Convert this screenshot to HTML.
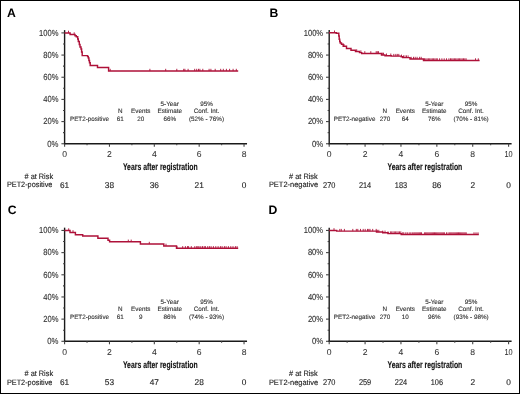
<!DOCTYPE html>
<html><head><meta charset="utf-8"><style>
html,body{margin:0;padding:0;background:#fff;}
body{width:520px;height:394px;overflow:hidden;}
svg{display:block;will-change:transform;transform:translateZ(0);text-rendering:geometricPrecision;font-family:"Liberation Sans", sans-serif;}
</style></head><body>
<svg width="520" height="394" viewBox="0 0 520 394">
<rect x="0" y="0" width="520" height="394" fill="#fff"/>
<rect x="0.5" y="0.5" width="519" height="393" fill="none" stroke="#000" stroke-width="1"/>
<text x="7.00" y="16.80" font-size="12.20" text-anchor="start" font-weight="bold" fill="#000">A</text>
<line x1="64.60" y1="30.10" x2="64.60" y2="144.35" stroke="#1a1a1a" stroke-width="1.4"/>
<line x1="61.40" y1="143.75" x2="64.60" y2="143.75" stroke="#444" stroke-width="1.1"/>
<text x="58.50" y="146.50" font-size="8.80" text-anchor="end" font-weight="normal" fill="#333" textLength="11.20" lengthAdjust="spacingAndGlyphs" stroke="#333" stroke-width="0.12">0%</text>
<line x1="63.00" y1="132.66" x2="64.60" y2="132.66" stroke="#444" stroke-width="1.1"/>
<line x1="61.40" y1="121.58" x2="64.60" y2="121.58" stroke="#444" stroke-width="1.1"/>
<text x="58.50" y="124.33" font-size="8.80" text-anchor="end" font-weight="normal" fill="#333" textLength="15.20" lengthAdjust="spacingAndGlyphs" stroke="#333" stroke-width="0.12">20%</text>
<line x1="63.00" y1="110.50" x2="64.60" y2="110.50" stroke="#444" stroke-width="1.1"/>
<line x1="61.40" y1="99.41" x2="64.60" y2="99.41" stroke="#444" stroke-width="1.1"/>
<text x="58.50" y="102.16" font-size="8.80" text-anchor="end" font-weight="normal" fill="#333" textLength="15.20" lengthAdjust="spacingAndGlyphs" stroke="#333" stroke-width="0.12">40%</text>
<line x1="63.00" y1="88.32" x2="64.60" y2="88.32" stroke="#444" stroke-width="1.1"/>
<line x1="61.40" y1="77.24" x2="64.60" y2="77.24" stroke="#444" stroke-width="1.1"/>
<text x="58.50" y="79.99" font-size="8.80" text-anchor="end" font-weight="normal" fill="#333" textLength="15.20" lengthAdjust="spacingAndGlyphs" stroke="#333" stroke-width="0.12">60%</text>
<line x1="63.00" y1="66.16" x2="64.60" y2="66.16" stroke="#444" stroke-width="1.1"/>
<line x1="61.40" y1="55.07" x2="64.60" y2="55.07" stroke="#444" stroke-width="1.1"/>
<text x="58.50" y="57.82" font-size="8.80" text-anchor="end" font-weight="normal" fill="#333" textLength="15.20" lengthAdjust="spacingAndGlyphs" stroke="#333" stroke-width="0.12">80%</text>
<line x1="63.00" y1="43.98" x2="64.60" y2="43.98" stroke="#444" stroke-width="1.1"/>
<line x1="61.40" y1="32.90" x2="64.60" y2="32.90" stroke="#444" stroke-width="1.1"/>
<text x="58.50" y="35.65" font-size="8.80" text-anchor="end" font-weight="normal" fill="#333" textLength="19.40" lengthAdjust="spacingAndGlyphs" stroke="#333" stroke-width="0.12">100%</text>
<line x1="64.00" y1="143.75" x2="247.04" y2="143.75" stroke="#1a1a1a" stroke-width="1.4"/>
<line x1="64.60" y1="143.75" x2="64.60" y2="146.75" stroke="#444" stroke-width="1.1"/>
<text x="64.60" y="157.00" font-size="8.60" text-anchor="middle" font-weight="normal" fill="#333" stroke="#333" stroke-width="0.05">0</text>
<line x1="87.03" y1="143.75" x2="87.03" y2="145.25" stroke="#444" stroke-width="1.1"/>
<line x1="109.46" y1="143.75" x2="109.46" y2="146.75" stroke="#444" stroke-width="1.1"/>
<text x="109.46" y="157.00" font-size="8.60" text-anchor="middle" font-weight="normal" fill="#333" stroke="#333" stroke-width="0.05">2</text>
<line x1="131.89" y1="143.75" x2="131.89" y2="145.25" stroke="#444" stroke-width="1.1"/>
<line x1="154.32" y1="143.75" x2="154.32" y2="146.75" stroke="#444" stroke-width="1.1"/>
<text x="154.32" y="157.00" font-size="8.60" text-anchor="middle" font-weight="normal" fill="#333" stroke="#333" stroke-width="0.05">4</text>
<line x1="176.75" y1="143.75" x2="176.75" y2="145.25" stroke="#444" stroke-width="1.1"/>
<line x1="199.18" y1="143.75" x2="199.18" y2="146.75" stroke="#444" stroke-width="1.1"/>
<text x="199.18" y="157.00" font-size="8.60" text-anchor="middle" font-weight="normal" fill="#333" stroke="#333" stroke-width="0.05">6</text>
<line x1="221.61" y1="143.75" x2="221.61" y2="145.25" stroke="#444" stroke-width="1.1"/>
<line x1="244.04" y1="143.75" x2="244.04" y2="146.75" stroke="#444" stroke-width="1.1"/>
<text x="244.04" y="157.00" font-size="8.60" text-anchor="middle" font-weight="normal" fill="#333" stroke="#333" stroke-width="0.05">8</text>
<text x="160.32" y="170.20" font-size="9.80" text-anchor="middle" font-weight="bold" fill="#111" textLength="74.80" lengthAdjust="spacingAndGlyphs" stroke="#111" stroke-width="0.12">Years after registration</text>
<text x="70.00" y="121.20" font-size="6.30" text-anchor="start" font-weight="normal" fill="#333" textLength="39.00" lengthAdjust="spacingAndGlyphs" stroke="#333" stroke-width="0.12">PET2-positive</text>
<text x="120.30" y="113.40" font-size="6.30" text-anchor="middle" font-weight="normal" fill="#333" stroke="#333" stroke-width="0.12">N</text>
<text x="120.30" y="121.20" font-size="6.30" text-anchor="middle" font-weight="normal" fill="#333" stroke="#333" stroke-width="0.12">61</text>
<text x="140.70" y="113.40" font-size="6.30" text-anchor="middle" font-weight="normal" fill="#333" stroke="#333" stroke-width="0.12">Events</text>
<text x="140.70" y="121.20" font-size="6.30" text-anchor="middle" font-weight="normal" fill="#333" stroke="#333" stroke-width="0.12">20</text>
<text x="169.70" y="106.00" font-size="6.30" text-anchor="middle" font-weight="normal" fill="#333" stroke="#333" stroke-width="0.12">5-Year</text>
<text x="169.70" y="113.40" font-size="6.30" text-anchor="middle" font-weight="normal" fill="#333" stroke="#333" stroke-width="0.12">Estimate</text>
<text x="169.70" y="121.20" font-size="6.30" text-anchor="middle" font-weight="normal" fill="#333" stroke="#333" stroke-width="0.12">66%</text>
<text x="206.50" y="106.00" font-size="6.30" text-anchor="middle" font-weight="normal" fill="#333" stroke="#333" stroke-width="0.12">95%</text>
<text x="206.50" y="113.40" font-size="6.30" text-anchor="middle" font-weight="normal" fill="#333" stroke="#333" stroke-width="0.12">Conf. Int.</text>
<text x="206.50" y="121.20" font-size="6.30" text-anchor="middle" font-weight="normal" fill="#333" stroke="#333" stroke-width="0.12">(52% - 76%)</text>
<text x="53.10" y="178.80" font-size="7.80" text-anchor="end" font-weight="normal" fill="#222" textLength="28.60" lengthAdjust="spacingAndGlyphs" stroke="#222" stroke-width="0.12"># at Risk</text>
<text x="52.40" y="187.40" font-size="7.70" text-anchor="end" font-weight="normal" fill="#222" textLength="45.50" lengthAdjust="spacingAndGlyphs" stroke="#222" stroke-width="0.12">PET2-positive</text>
<text x="64.60" y="187.80" font-size="8.30" text-anchor="middle" font-weight="normal" fill="#222" stroke="#222" stroke-width="0.12">61</text>
<text x="109.46" y="187.80" font-size="8.30" text-anchor="middle" font-weight="normal" fill="#222" stroke="#222" stroke-width="0.12">38</text>
<text x="154.32" y="187.80" font-size="8.30" text-anchor="middle" font-weight="normal" fill="#222" stroke="#222" stroke-width="0.12">36</text>
<text x="199.18" y="187.80" font-size="8.30" text-anchor="middle" font-weight="normal" fill="#222" stroke="#222" stroke-width="0.12">21</text>
<text x="244.04" y="187.80" font-size="8.30" text-anchor="middle" font-weight="normal" fill="#222" stroke="#222" stroke-width="0.12">0</text>
<path d="M64.60 32.90 L70.10 32.90 L70.10 34.50 L75.00 34.50 L75.00 35.80 L76.30 35.80 L76.30 36.80 L77.70 36.80 L77.70 39.00 L78.30 39.00 L78.30 41.50 L79.30 41.50 L79.30 44.50 L80.00 44.50 L80.00 47.00 L81.00 47.00 L81.00 49.00 L81.60 49.00 L81.60 52.00 L82.20 52.00 L82.20 55.60 L87.60 55.60 L87.60 56.60 L88.30 56.60 L88.30 58.00 L88.90 58.00 L88.90 60.50 L89.50 60.50 L89.50 62.80 L90.20 62.80 L90.20 65.50 L97.50 65.50 L97.50 67.40 L108.60 67.40 L108.60 71.00 L238.20 71.00" fill="none" stroke="#ae1139" stroke-width="1.45" stroke-linejoin="miter"/>
<path d="M68.50 32.90 V30.70 M74.20 34.50 V32.30 M110.20 71.00 V68.80 M149.90 71.00 V68.80 M165.70 71.00 V68.80 M176.80 71.00 V68.80 M183.70 71.00 V68.80 M184.90 71.00 V68.80 M188.10 71.00 V68.80 M194.70 71.00 V68.80 M196.70 71.00 V68.80 M198.50 71.00 V68.80 M199.90 71.00 V68.80 M202.80 71.00 V68.80 M209.10 71.00 V68.80 M210.90 71.00 V68.80 M215.20 71.00 V68.80 M220.70 71.00 V68.80 M223.30 71.00 V68.80 M226.40 71.00 V68.80 M229.60 71.00 V68.80 M233.10 71.00 V68.80 M236.30 71.00 V68.80 " fill="none" stroke="#ae1139" stroke-width="0.9"/>
<text x="269.60" y="16.80" font-size="12.20" text-anchor="start" font-weight="bold" fill="#000">B</text>
<line x1="329.20" y1="30.10" x2="329.20" y2="144.35" stroke="#1a1a1a" stroke-width="1.4"/>
<line x1="326.00" y1="143.75" x2="329.20" y2="143.75" stroke="#444" stroke-width="1.1"/>
<text x="323.10" y="146.50" font-size="8.80" text-anchor="end" font-weight="normal" fill="#333" textLength="11.20" lengthAdjust="spacingAndGlyphs" stroke="#333" stroke-width="0.12">0%</text>
<line x1="327.60" y1="132.66" x2="329.20" y2="132.66" stroke="#444" stroke-width="1.1"/>
<line x1="326.00" y1="121.58" x2="329.20" y2="121.58" stroke="#444" stroke-width="1.1"/>
<text x="323.10" y="124.33" font-size="8.80" text-anchor="end" font-weight="normal" fill="#333" textLength="15.20" lengthAdjust="spacingAndGlyphs" stroke="#333" stroke-width="0.12">20%</text>
<line x1="327.60" y1="110.50" x2="329.20" y2="110.50" stroke="#444" stroke-width="1.1"/>
<line x1="326.00" y1="99.41" x2="329.20" y2="99.41" stroke="#444" stroke-width="1.1"/>
<text x="323.10" y="102.16" font-size="8.80" text-anchor="end" font-weight="normal" fill="#333" textLength="15.20" lengthAdjust="spacingAndGlyphs" stroke="#333" stroke-width="0.12">40%</text>
<line x1="327.60" y1="88.32" x2="329.20" y2="88.32" stroke="#444" stroke-width="1.1"/>
<line x1="326.00" y1="77.24" x2="329.20" y2="77.24" stroke="#444" stroke-width="1.1"/>
<text x="323.10" y="79.99" font-size="8.80" text-anchor="end" font-weight="normal" fill="#333" textLength="15.20" lengthAdjust="spacingAndGlyphs" stroke="#333" stroke-width="0.12">60%</text>
<line x1="327.60" y1="66.16" x2="329.20" y2="66.16" stroke="#444" stroke-width="1.1"/>
<line x1="326.00" y1="55.07" x2="329.20" y2="55.07" stroke="#444" stroke-width="1.1"/>
<text x="323.10" y="57.82" font-size="8.80" text-anchor="end" font-weight="normal" fill="#333" textLength="15.20" lengthAdjust="spacingAndGlyphs" stroke="#333" stroke-width="0.12">80%</text>
<line x1="327.60" y1="43.98" x2="329.20" y2="43.98" stroke="#444" stroke-width="1.1"/>
<line x1="326.00" y1="32.90" x2="329.20" y2="32.90" stroke="#444" stroke-width="1.1"/>
<text x="323.10" y="35.65" font-size="8.80" text-anchor="end" font-weight="normal" fill="#333" textLength="19.40" lengthAdjust="spacingAndGlyphs" stroke="#333" stroke-width="0.12">100%</text>
<line x1="328.60" y1="143.75" x2="511.60" y2="143.75" stroke="#1a1a1a" stroke-width="1.4"/>
<line x1="329.20" y1="143.75" x2="329.20" y2="146.75" stroke="#444" stroke-width="1.1"/>
<text x="329.20" y="157.00" font-size="8.60" text-anchor="middle" font-weight="normal" fill="#333" stroke="#333" stroke-width="0.05">0</text>
<line x1="347.14" y1="143.75" x2="347.14" y2="145.25" stroke="#444" stroke-width="1.1"/>
<line x1="365.08" y1="143.75" x2="365.08" y2="146.75" stroke="#444" stroke-width="1.1"/>
<text x="365.08" y="157.00" font-size="8.60" text-anchor="middle" font-weight="normal" fill="#333" stroke="#333" stroke-width="0.05">2</text>
<line x1="383.02" y1="143.75" x2="383.02" y2="145.25" stroke="#444" stroke-width="1.1"/>
<line x1="400.96" y1="143.75" x2="400.96" y2="146.75" stroke="#444" stroke-width="1.1"/>
<text x="400.96" y="157.00" font-size="8.60" text-anchor="middle" font-weight="normal" fill="#333" stroke="#333" stroke-width="0.05">4</text>
<line x1="418.90" y1="143.75" x2="418.90" y2="145.25" stroke="#444" stroke-width="1.1"/>
<line x1="436.84" y1="143.75" x2="436.84" y2="146.75" stroke="#444" stroke-width="1.1"/>
<text x="436.84" y="157.00" font-size="8.60" text-anchor="middle" font-weight="normal" fill="#333" stroke="#333" stroke-width="0.05">6</text>
<line x1="454.78" y1="143.75" x2="454.78" y2="145.25" stroke="#444" stroke-width="1.1"/>
<line x1="472.72" y1="143.75" x2="472.72" y2="146.75" stroke="#444" stroke-width="1.1"/>
<text x="472.72" y="157.00" font-size="8.60" text-anchor="middle" font-weight="normal" fill="#333" stroke="#333" stroke-width="0.05">8</text>
<line x1="490.66" y1="143.75" x2="490.66" y2="145.25" stroke="#444" stroke-width="1.1"/>
<line x1="508.60" y1="143.75" x2="508.60" y2="146.75" stroke="#444" stroke-width="1.1"/>
<text x="508.60" y="157.00" font-size="8.60" text-anchor="middle" font-weight="normal" fill="#333" textLength="8.20" lengthAdjust="spacingAndGlyphs" stroke="#333" stroke-width="0.05">10</text>
<text x="424.90" y="170.20" font-size="9.80" text-anchor="middle" font-weight="bold" fill="#111" textLength="74.80" lengthAdjust="spacingAndGlyphs" stroke="#111" stroke-width="0.12">Years after registration</text>
<text x="333.80" y="121.20" font-size="6.30" text-anchor="start" font-weight="normal" fill="#333" textLength="41.60" lengthAdjust="spacingAndGlyphs" stroke="#333" stroke-width="0.12">PET2-negative</text>
<text x="384.90" y="113.40" font-size="6.30" text-anchor="middle" font-weight="normal" fill="#333" stroke="#333" stroke-width="0.12">N</text>
<text x="384.90" y="121.20" font-size="6.30" text-anchor="middle" font-weight="normal" fill="#333" stroke="#333" stroke-width="0.12">270</text>
<text x="405.30" y="113.40" font-size="6.30" text-anchor="middle" font-weight="normal" fill="#333" stroke="#333" stroke-width="0.12">Events</text>
<text x="405.30" y="121.20" font-size="6.30" text-anchor="middle" font-weight="normal" fill="#333" stroke="#333" stroke-width="0.12">64</text>
<text x="434.30" y="106.00" font-size="6.30" text-anchor="middle" font-weight="normal" fill="#333" stroke="#333" stroke-width="0.12">5-Year</text>
<text x="434.30" y="113.40" font-size="6.30" text-anchor="middle" font-weight="normal" fill="#333" stroke="#333" stroke-width="0.12">Estimate</text>
<text x="434.30" y="121.20" font-size="6.30" text-anchor="middle" font-weight="normal" fill="#333" stroke="#333" stroke-width="0.12">76%</text>
<text x="471.10" y="106.00" font-size="6.30" text-anchor="middle" font-weight="normal" fill="#333" stroke="#333" stroke-width="0.12">95%</text>
<text x="471.10" y="113.40" font-size="6.30" text-anchor="middle" font-weight="normal" fill="#333" stroke="#333" stroke-width="0.12">Conf. Int.</text>
<text x="471.10" y="121.20" font-size="6.30" text-anchor="middle" font-weight="normal" fill="#333" stroke="#333" stroke-width="0.12">(70% - 81%)</text>
<text x="317.70" y="178.80" font-size="7.80" text-anchor="end" font-weight="normal" fill="#222" textLength="28.60" lengthAdjust="spacingAndGlyphs" stroke="#222" stroke-width="0.12"># at Risk</text>
<text x="318.20" y="187.40" font-size="7.70" text-anchor="end" font-weight="normal" fill="#222" textLength="49.30" lengthAdjust="spacingAndGlyphs" stroke="#222" stroke-width="0.12">PET2-negative</text>
<text x="329.20" y="187.80" font-size="8.30" text-anchor="middle" font-weight="normal" fill="#222" textLength="12.30" lengthAdjust="spacingAndGlyphs" stroke="#222" stroke-width="0.12">270</text>
<text x="365.08" y="187.80" font-size="8.30" text-anchor="middle" font-weight="normal" fill="#222" textLength="12.30" lengthAdjust="spacingAndGlyphs" stroke="#222" stroke-width="0.12">214</text>
<text x="400.96" y="187.80" font-size="8.30" text-anchor="middle" font-weight="normal" fill="#222" textLength="12.30" lengthAdjust="spacingAndGlyphs" stroke="#222" stroke-width="0.12">183</text>
<text x="436.84" y="187.80" font-size="8.30" text-anchor="middle" font-weight="normal" fill="#222" stroke="#222" stroke-width="0.12">86</text>
<text x="472.72" y="187.80" font-size="8.30" text-anchor="middle" font-weight="normal" fill="#222" stroke="#222" stroke-width="0.12">2</text>
<text x="508.60" y="187.80" font-size="8.30" text-anchor="middle" font-weight="normal" fill="#222" stroke="#222" stroke-width="0.12">0</text>
<path d="M329.00 32.70 L336.30 32.70 L336.30 33.20 L338.80 33.20 L338.80 36.00 L339.20 36.00 L339.20 39.20 L339.70 39.20 L339.70 41.50 L340.20 41.50 L340.20 43.00 L341.50 43.00 L341.50 44.20 L343.20 44.20 L343.20 46.20 L346.50 46.20 L346.50 48.40 L351.00 48.40 L351.00 50.30 L355.50 50.30 L355.50 51.50 L359.50 51.50 L359.50 52.60 L361.70 52.60 L361.70 53.40 L381.50 53.40 L381.50 54.90 L385.00 54.90 L385.00 55.70 L391.20 55.70 L391.20 56.10 L401.20 56.10 L401.20 56.80 L402.70 56.80 L402.70 57.60 L410.00 57.60 L410.00 59.00 L423.50 59.00 L423.50 60.50 L479.60 60.50" fill="none" stroke="#ae1139" stroke-width="1.45" stroke-linejoin="miter"/>
<path d="M334.50 32.70 V30.50 M344.00 46.20 V44.00 M356.70 51.50 V49.30 M360.90 52.60 V50.40 M364.80 53.40 V51.20 M370.80 53.40 V51.20 M376.20 53.40 V51.20 M377.30 53.40 V51.20 M378.50 53.40 V51.20 M382.30 54.90 V52.70 M383.50 54.90 V52.70 M386.50 55.70 V53.50 M390.80 55.70 V53.50 M393.80 56.10 V53.90 M395.80 56.10 V53.90 M397.30 56.10 V53.90 M398.80 56.10 V53.90 M401.50 56.80 V54.60 M403.50 57.60 V55.40 M405.00 57.60 V55.40 M406.50 57.60 V55.40 M408.10 57.60 V55.40 M411.20 59.00 V56.80 M413.50 59.00 V56.80 M415.20 59.00 V56.80 M417.10 59.00 V56.80 M419.60 59.00 V56.80 M421.20 59.00 V56.80 M424.50 60.50 V58.30 M425.80 60.50 V58.30 M427.10 60.50 V58.30 M428.40 60.50 V58.30 M429.70 60.50 V58.30 M431.00 60.50 V58.30 M432.30 60.50 V58.30 M433.60 60.50 V58.30 M434.90 60.50 V58.30 M436.20 60.50 V58.30 M437.30 60.50 V58.30 M439.60 60.50 V58.30 M441.90 60.50 V58.30 M444.20 60.50 V58.30 M446.50 60.50 V58.30 M448.90 60.50 V58.30 M450.50 60.50 V58.30 M451.80 60.50 V58.30 M453.10 60.50 V58.30 M454.40 60.50 V58.30 M455.70 60.50 V58.30 M457.00 60.50 V58.30 M458.30 60.50 V58.30 M459.60 60.50 V58.30 M460.90 60.50 V58.30 M462.20 60.50 V58.30 M463.50 60.50 V58.30 M464.80 60.50 V58.30 M466.10 60.50 V58.30 M475.50 60.50 V58.30 M478.30 60.50 V58.30 " fill="none" stroke="#ae1139" stroke-width="0.9"/>
<text x="7.70" y="214.35" font-size="12.20" text-anchor="start" font-weight="bold" fill="#000">C</text>
<line x1="64.60" y1="227.65" x2="64.60" y2="341.90" stroke="#1a1a1a" stroke-width="1.4"/>
<line x1="61.40" y1="341.30" x2="64.60" y2="341.30" stroke="#444" stroke-width="1.1"/>
<text x="58.50" y="344.05" font-size="8.80" text-anchor="end" font-weight="normal" fill="#333" textLength="11.20" lengthAdjust="spacingAndGlyphs" stroke="#333" stroke-width="0.12">0%</text>
<line x1="63.00" y1="330.22" x2="64.60" y2="330.22" stroke="#444" stroke-width="1.1"/>
<line x1="61.40" y1="319.13" x2="64.60" y2="319.13" stroke="#444" stroke-width="1.1"/>
<text x="58.50" y="321.88" font-size="8.80" text-anchor="end" font-weight="normal" fill="#333" textLength="15.20" lengthAdjust="spacingAndGlyphs" stroke="#333" stroke-width="0.12">20%</text>
<line x1="63.00" y1="308.05" x2="64.60" y2="308.05" stroke="#444" stroke-width="1.1"/>
<line x1="61.40" y1="296.96" x2="64.60" y2="296.96" stroke="#444" stroke-width="1.1"/>
<text x="58.50" y="299.71" font-size="8.80" text-anchor="end" font-weight="normal" fill="#333" textLength="15.20" lengthAdjust="spacingAndGlyphs" stroke="#333" stroke-width="0.12">40%</text>
<line x1="63.00" y1="285.88" x2="64.60" y2="285.88" stroke="#444" stroke-width="1.1"/>
<line x1="61.40" y1="274.79" x2="64.60" y2="274.79" stroke="#444" stroke-width="1.1"/>
<text x="58.50" y="277.54" font-size="8.80" text-anchor="end" font-weight="normal" fill="#333" textLength="15.20" lengthAdjust="spacingAndGlyphs" stroke="#333" stroke-width="0.12">60%</text>
<line x1="63.00" y1="263.71" x2="64.60" y2="263.71" stroke="#444" stroke-width="1.1"/>
<line x1="61.40" y1="252.62" x2="64.60" y2="252.62" stroke="#444" stroke-width="1.1"/>
<text x="58.50" y="255.37" font-size="8.80" text-anchor="end" font-weight="normal" fill="#333" textLength="15.20" lengthAdjust="spacingAndGlyphs" stroke="#333" stroke-width="0.12">80%</text>
<line x1="63.00" y1="241.54" x2="64.60" y2="241.54" stroke="#444" stroke-width="1.1"/>
<line x1="61.40" y1="230.45" x2="64.60" y2="230.45" stroke="#444" stroke-width="1.1"/>
<text x="58.50" y="233.20" font-size="8.80" text-anchor="end" font-weight="normal" fill="#333" textLength="19.40" lengthAdjust="spacingAndGlyphs" stroke="#333" stroke-width="0.12">100%</text>
<line x1="64.00" y1="341.30" x2="247.04" y2="341.30" stroke="#1a1a1a" stroke-width="1.4"/>
<line x1="64.60" y1="341.30" x2="64.60" y2="344.30" stroke="#444" stroke-width="1.1"/>
<text x="64.60" y="354.55" font-size="8.60" text-anchor="middle" font-weight="normal" fill="#333" stroke="#333" stroke-width="0.05">0</text>
<line x1="87.03" y1="341.30" x2="87.03" y2="342.80" stroke="#444" stroke-width="1.1"/>
<line x1="109.46" y1="341.30" x2="109.46" y2="344.30" stroke="#444" stroke-width="1.1"/>
<text x="109.46" y="354.55" font-size="8.60" text-anchor="middle" font-weight="normal" fill="#333" stroke="#333" stroke-width="0.05">2</text>
<line x1="131.89" y1="341.30" x2="131.89" y2="342.80" stroke="#444" stroke-width="1.1"/>
<line x1="154.32" y1="341.30" x2="154.32" y2="344.30" stroke="#444" stroke-width="1.1"/>
<text x="154.32" y="354.55" font-size="8.60" text-anchor="middle" font-weight="normal" fill="#333" stroke="#333" stroke-width="0.05">4</text>
<line x1="176.75" y1="341.30" x2="176.75" y2="342.80" stroke="#444" stroke-width="1.1"/>
<line x1="199.18" y1="341.30" x2="199.18" y2="344.30" stroke="#444" stroke-width="1.1"/>
<text x="199.18" y="354.55" font-size="8.60" text-anchor="middle" font-weight="normal" fill="#333" stroke="#333" stroke-width="0.05">6</text>
<line x1="221.61" y1="341.30" x2="221.61" y2="342.80" stroke="#444" stroke-width="1.1"/>
<line x1="244.04" y1="341.30" x2="244.04" y2="344.30" stroke="#444" stroke-width="1.1"/>
<text x="244.04" y="354.55" font-size="8.60" text-anchor="middle" font-weight="normal" fill="#333" stroke="#333" stroke-width="0.05">8</text>
<text x="160.32" y="367.75" font-size="9.80" text-anchor="middle" font-weight="bold" fill="#111" textLength="74.80" lengthAdjust="spacingAndGlyphs" stroke="#111" stroke-width="0.12">Years after registration</text>
<text x="70.00" y="318.75" font-size="6.30" text-anchor="start" font-weight="normal" fill="#333" textLength="39.00" lengthAdjust="spacingAndGlyphs" stroke="#333" stroke-width="0.12">PET2-positive</text>
<text x="120.30" y="310.95" font-size="6.30" text-anchor="middle" font-weight="normal" fill="#333" stroke="#333" stroke-width="0.12">N</text>
<text x="120.30" y="318.75" font-size="6.30" text-anchor="middle" font-weight="normal" fill="#333" stroke="#333" stroke-width="0.12">61</text>
<text x="140.70" y="310.95" font-size="6.30" text-anchor="middle" font-weight="normal" fill="#333" stroke="#333" stroke-width="0.12">Events</text>
<text x="140.70" y="318.75" font-size="6.30" text-anchor="middle" font-weight="normal" fill="#333" stroke="#333" stroke-width="0.12">9</text>
<text x="169.70" y="303.55" font-size="6.30" text-anchor="middle" font-weight="normal" fill="#333" stroke="#333" stroke-width="0.12">5-Year</text>
<text x="169.70" y="310.95" font-size="6.30" text-anchor="middle" font-weight="normal" fill="#333" stroke="#333" stroke-width="0.12">Estimate</text>
<text x="169.70" y="318.75" font-size="6.30" text-anchor="middle" font-weight="normal" fill="#333" stroke="#333" stroke-width="0.12">86%</text>
<text x="206.50" y="303.55" font-size="6.30" text-anchor="middle" font-weight="normal" fill="#333" stroke="#333" stroke-width="0.12">95%</text>
<text x="206.50" y="310.95" font-size="6.30" text-anchor="middle" font-weight="normal" fill="#333" stroke="#333" stroke-width="0.12">Conf. Int.</text>
<text x="206.50" y="318.75" font-size="6.30" text-anchor="middle" font-weight="normal" fill="#333" stroke="#333" stroke-width="0.12">(74% - 93%)</text>
<text x="53.10" y="376.35" font-size="7.80" text-anchor="end" font-weight="normal" fill="#222" textLength="28.60" lengthAdjust="spacingAndGlyphs" stroke="#222" stroke-width="0.12"># at Risk</text>
<text x="52.40" y="384.95" font-size="7.70" text-anchor="end" font-weight="normal" fill="#222" textLength="45.50" lengthAdjust="spacingAndGlyphs" stroke="#222" stroke-width="0.12">PET2-positive</text>
<text x="64.60" y="385.35" font-size="8.30" text-anchor="middle" font-weight="normal" fill="#222" stroke="#222" stroke-width="0.12">61</text>
<text x="109.46" y="385.35" font-size="8.30" text-anchor="middle" font-weight="normal" fill="#222" stroke="#222" stroke-width="0.12">53</text>
<text x="154.32" y="385.35" font-size="8.30" text-anchor="middle" font-weight="normal" fill="#222" stroke="#222" stroke-width="0.12">47</text>
<text x="199.18" y="385.35" font-size="8.30" text-anchor="middle" font-weight="normal" fill="#222" stroke="#222" stroke-width="0.12">28</text>
<text x="244.04" y="385.35" font-size="8.30" text-anchor="middle" font-weight="normal" fill="#222" stroke="#222" stroke-width="0.12">0</text>
<path d="M64.60 230.50 L70.00 230.50 L70.00 232.40 L75.40 232.40 L75.40 234.70 L82.70 234.70 L82.70 236.00 L97.90 236.00 L97.90 238.20 L108.00 238.20 L108.00 240.30 L109.60 240.30 L109.60 241.80 L140.40 241.80 L140.40 244.00 L163.80 244.00 L163.80 245.90 L176.50 245.90 L176.50 248.30 L238.20 248.30" fill="none" stroke="#ae1139" stroke-width="1.45" stroke-linejoin="miter"/>
<path d="M68.70 230.50 V228.30 M73.00 232.40 V230.20 M128.30 241.80 V239.60 M131.20 241.80 V239.60 M149.30 244.00 V241.80 M166.00 245.90 V243.70 M177.00 248.30 V246.10 M182.70 248.30 V246.10 M185.40 248.30 V246.10 M187.50 248.30 V246.10 M188.60 248.30 V246.10 M191.30 248.30 V246.10 M194.80 248.30 V246.10 M196.70 248.30 V246.10 M197.90 248.30 V246.10 M199.00 248.30 V246.10 M200.80 248.30 V246.10 M202.50 248.30 V246.10 M204.20 248.30 V246.10 M205.40 248.30 V246.10 M207.70 248.30 V246.10 M209.40 248.30 V246.10 M211.10 248.30 V246.10 M213.40 248.30 V246.10 M215.80 248.30 V246.10 M218.10 248.30 V246.10 M220.40 248.30 V246.10 M222.10 248.30 V246.10 M224.40 248.30 V246.10 M226.10 248.30 V246.10 M228.40 248.30 V246.10 M230.80 248.30 V246.10 M233.00 248.30 V246.10 M235.40 248.30 V246.10 M237.10 248.30 V246.10 " fill="none" stroke="#ae1139" stroke-width="0.9"/>
<text x="268.50" y="214.35" font-size="12.20" text-anchor="start" font-weight="bold" fill="#000">D</text>
<line x1="329.20" y1="227.65" x2="329.20" y2="341.90" stroke="#1a1a1a" stroke-width="1.4"/>
<line x1="326.00" y1="341.30" x2="329.20" y2="341.30" stroke="#444" stroke-width="1.1"/>
<text x="323.10" y="344.05" font-size="8.80" text-anchor="end" font-weight="normal" fill="#333" textLength="11.20" lengthAdjust="spacingAndGlyphs" stroke="#333" stroke-width="0.12">0%</text>
<line x1="327.60" y1="330.22" x2="329.20" y2="330.22" stroke="#444" stroke-width="1.1"/>
<line x1="326.00" y1="319.13" x2="329.20" y2="319.13" stroke="#444" stroke-width="1.1"/>
<text x="323.10" y="321.88" font-size="8.80" text-anchor="end" font-weight="normal" fill="#333" textLength="15.20" lengthAdjust="spacingAndGlyphs" stroke="#333" stroke-width="0.12">20%</text>
<line x1="327.60" y1="308.05" x2="329.20" y2="308.05" stroke="#444" stroke-width="1.1"/>
<line x1="326.00" y1="296.96" x2="329.20" y2="296.96" stroke="#444" stroke-width="1.1"/>
<text x="323.10" y="299.71" font-size="8.80" text-anchor="end" font-weight="normal" fill="#333" textLength="15.20" lengthAdjust="spacingAndGlyphs" stroke="#333" stroke-width="0.12">40%</text>
<line x1="327.60" y1="285.88" x2="329.20" y2="285.88" stroke="#444" stroke-width="1.1"/>
<line x1="326.00" y1="274.79" x2="329.20" y2="274.79" stroke="#444" stroke-width="1.1"/>
<text x="323.10" y="277.54" font-size="8.80" text-anchor="end" font-weight="normal" fill="#333" textLength="15.20" lengthAdjust="spacingAndGlyphs" stroke="#333" stroke-width="0.12">60%</text>
<line x1="327.60" y1="263.71" x2="329.20" y2="263.71" stroke="#444" stroke-width="1.1"/>
<line x1="326.00" y1="252.62" x2="329.20" y2="252.62" stroke="#444" stroke-width="1.1"/>
<text x="323.10" y="255.37" font-size="8.80" text-anchor="end" font-weight="normal" fill="#333" textLength="15.20" lengthAdjust="spacingAndGlyphs" stroke="#333" stroke-width="0.12">80%</text>
<line x1="327.60" y1="241.54" x2="329.20" y2="241.54" stroke="#444" stroke-width="1.1"/>
<line x1="326.00" y1="230.45" x2="329.20" y2="230.45" stroke="#444" stroke-width="1.1"/>
<text x="323.10" y="233.20" font-size="8.80" text-anchor="end" font-weight="normal" fill="#333" textLength="19.40" lengthAdjust="spacingAndGlyphs" stroke="#333" stroke-width="0.12">100%</text>
<line x1="328.60" y1="341.30" x2="511.60" y2="341.30" stroke="#1a1a1a" stroke-width="1.4"/>
<line x1="329.20" y1="341.30" x2="329.20" y2="344.30" stroke="#444" stroke-width="1.1"/>
<text x="329.20" y="354.55" font-size="8.60" text-anchor="middle" font-weight="normal" fill="#333" stroke="#333" stroke-width="0.05">0</text>
<line x1="347.14" y1="341.30" x2="347.14" y2="342.80" stroke="#444" stroke-width="1.1"/>
<line x1="365.08" y1="341.30" x2="365.08" y2="344.30" stroke="#444" stroke-width="1.1"/>
<text x="365.08" y="354.55" font-size="8.60" text-anchor="middle" font-weight="normal" fill="#333" stroke="#333" stroke-width="0.05">2</text>
<line x1="383.02" y1="341.30" x2="383.02" y2="342.80" stroke="#444" stroke-width="1.1"/>
<line x1="400.96" y1="341.30" x2="400.96" y2="344.30" stroke="#444" stroke-width="1.1"/>
<text x="400.96" y="354.55" font-size="8.60" text-anchor="middle" font-weight="normal" fill="#333" stroke="#333" stroke-width="0.05">4</text>
<line x1="418.90" y1="341.30" x2="418.90" y2="342.80" stroke="#444" stroke-width="1.1"/>
<line x1="436.84" y1="341.30" x2="436.84" y2="344.30" stroke="#444" stroke-width="1.1"/>
<text x="436.84" y="354.55" font-size="8.60" text-anchor="middle" font-weight="normal" fill="#333" stroke="#333" stroke-width="0.05">6</text>
<line x1="454.78" y1="341.30" x2="454.78" y2="342.80" stroke="#444" stroke-width="1.1"/>
<line x1="472.72" y1="341.30" x2="472.72" y2="344.30" stroke="#444" stroke-width="1.1"/>
<text x="472.72" y="354.55" font-size="8.60" text-anchor="middle" font-weight="normal" fill="#333" stroke="#333" stroke-width="0.05">8</text>
<line x1="490.66" y1="341.30" x2="490.66" y2="342.80" stroke="#444" stroke-width="1.1"/>
<line x1="508.60" y1="341.30" x2="508.60" y2="344.30" stroke="#444" stroke-width="1.1"/>
<text x="508.60" y="354.55" font-size="8.60" text-anchor="middle" font-weight="normal" fill="#333" textLength="8.20" lengthAdjust="spacingAndGlyphs" stroke="#333" stroke-width="0.05">10</text>
<text x="424.90" y="367.75" font-size="9.80" text-anchor="middle" font-weight="bold" fill="#111" textLength="74.80" lengthAdjust="spacingAndGlyphs" stroke="#111" stroke-width="0.12">Years after registration</text>
<text x="333.80" y="318.75" font-size="6.30" text-anchor="start" font-weight="normal" fill="#333" textLength="41.60" lengthAdjust="spacingAndGlyphs" stroke="#333" stroke-width="0.12">PET2-negative</text>
<text x="384.90" y="310.95" font-size="6.30" text-anchor="middle" font-weight="normal" fill="#333" stroke="#333" stroke-width="0.12">N</text>
<text x="384.90" y="318.75" font-size="6.30" text-anchor="middle" font-weight="normal" fill="#333" stroke="#333" stroke-width="0.12">270</text>
<text x="405.30" y="310.95" font-size="6.30" text-anchor="middle" font-weight="normal" fill="#333" stroke="#333" stroke-width="0.12">Events</text>
<text x="405.30" y="318.75" font-size="6.30" text-anchor="middle" font-weight="normal" fill="#333" stroke="#333" stroke-width="0.12">10</text>
<text x="434.30" y="303.55" font-size="6.30" text-anchor="middle" font-weight="normal" fill="#333" stroke="#333" stroke-width="0.12">5-Year</text>
<text x="434.30" y="310.95" font-size="6.30" text-anchor="middle" font-weight="normal" fill="#333" stroke="#333" stroke-width="0.12">Estimate</text>
<text x="434.30" y="318.75" font-size="6.30" text-anchor="middle" font-weight="normal" fill="#333" stroke="#333" stroke-width="0.12">96%</text>
<text x="471.10" y="303.55" font-size="6.30" text-anchor="middle" font-weight="normal" fill="#333" stroke="#333" stroke-width="0.12">95%</text>
<text x="471.10" y="310.95" font-size="6.30" text-anchor="middle" font-weight="normal" fill="#333" stroke="#333" stroke-width="0.12">Conf. Int.</text>
<text x="471.10" y="318.75" font-size="6.30" text-anchor="middle" font-weight="normal" fill="#333" stroke="#333" stroke-width="0.12">(93% - 98%)</text>
<text x="317.70" y="376.35" font-size="7.80" text-anchor="end" font-weight="normal" fill="#222" textLength="28.60" lengthAdjust="spacingAndGlyphs" stroke="#222" stroke-width="0.12"># at Risk</text>
<text x="318.20" y="384.95" font-size="7.70" text-anchor="end" font-weight="normal" fill="#222" textLength="49.30" lengthAdjust="spacingAndGlyphs" stroke="#222" stroke-width="0.12">PET2-negative</text>
<text x="329.20" y="385.35" font-size="8.30" text-anchor="middle" font-weight="normal" fill="#222" textLength="12.30" lengthAdjust="spacingAndGlyphs" stroke="#222" stroke-width="0.12">270</text>
<text x="365.08" y="385.35" font-size="8.30" text-anchor="middle" font-weight="normal" fill="#222" textLength="12.30" lengthAdjust="spacingAndGlyphs" stroke="#222" stroke-width="0.12">259</text>
<text x="400.96" y="385.35" font-size="8.30" text-anchor="middle" font-weight="normal" fill="#222" textLength="12.30" lengthAdjust="spacingAndGlyphs" stroke="#222" stroke-width="0.12">224</text>
<text x="436.84" y="385.35" font-size="8.30" text-anchor="middle" font-weight="normal" fill="#222" textLength="12.30" lengthAdjust="spacingAndGlyphs" stroke="#222" stroke-width="0.12">106</text>
<text x="472.72" y="385.35" font-size="8.30" text-anchor="middle" font-weight="normal" fill="#222" stroke="#222" stroke-width="0.12">2</text>
<text x="508.60" y="385.35" font-size="8.30" text-anchor="middle" font-weight="normal" fill="#222" stroke="#222" stroke-width="0.12">0</text>
<path d="M329.20 230.40 L336.70 230.40 L336.70 231.10 L376.50 231.10 L376.50 232.00 L382.70 232.00 L382.70 232.80 L388.00 232.80 L388.00 233.60 L401.20 233.60 L401.20 234.50 L478.80 234.50" fill="none" stroke="#ae1139" stroke-width="1.45" stroke-linejoin="miter"/>
<path d="M334.00 230.40 V228.20 M339.80 231.10 V228.90 M341.30 231.10 V228.90 M344.40 231.10 V228.90 M352.80 231.10 V228.90 M356.30 231.10 V228.90 M357.80 231.10 V228.90 M360.50 231.10 V228.90 M363.20 231.10 V228.90 M365.20 231.10 V228.90 M367.50 231.10 V228.90 M368.80 231.10 V228.90 M370.00 231.10 V228.90 M372.70 231.10 V228.90 M376.20 231.10 V228.90 M377.30 232.00 V229.80 M378.80 232.00 V229.80 M382.70 232.80 V230.60 M385.00 232.80 V230.60 M388.00 233.60 V231.40 M390.40 233.60 V231.40 M391.70 233.60 V231.40 M393.00 233.60 V231.40 M394.30 233.60 V231.40 M395.60 233.60 V231.40 M396.90 233.60 V231.40 M398.20 233.60 V231.40 M399.50 233.60 V231.40 M400.80 233.60 V231.40 M402.70 234.50 V232.30 M403.80 234.50 V232.30 M405.80 234.50 V232.30 M407.30 234.50 V232.30 M409.20 234.50 V232.30 M410.80 234.50 V232.30 M412.30 234.50 V232.30 M413.80 234.50 V232.30 M414.90 234.50 V232.30 M416.00 234.50 V232.30 M417.10 234.50 V232.30 M418.20 234.50 V232.30 M419.30 234.50 V232.30 M420.40 234.50 V232.30 M421.50 234.50 V232.30 M424.60 234.50 V232.30 M425.70 234.50 V232.30 M426.80 234.50 V232.30 M427.90 234.50 V232.30 M429.00 234.50 V232.30 M430.10 234.50 V232.30 M431.20 234.50 V232.30 M432.30 234.50 V232.30 M433.40 234.50 V232.30 M434.50 234.50 V232.30 M435.60 234.50 V232.30 M436.70 234.50 V232.30 M437.80 234.50 V232.30 M438.90 234.50 V232.30 M440.00 234.50 V232.30 M441.10 234.50 V232.30 M442.20 234.50 V232.30 M443.30 234.50 V232.30 M444.40 234.50 V232.30 M446.50 234.50 V232.30 M448.10 234.50 V232.30 M449.70 234.50 V232.30 M450.80 234.50 V232.30 M451.90 234.50 V232.30 M453.00 234.50 V232.30 M454.10 234.50 V232.30 M455.20 234.50 V232.30 M456.30 234.50 V232.30 M457.40 234.50 V232.30 M458.50 234.50 V232.30 M459.60 234.50 V232.30 M460.70 234.50 V232.30 M461.80 234.50 V232.30 M462.90 234.50 V232.30 M464.00 234.50 V232.30 M465.10 234.50 V232.30 M466.20 234.50 V232.30 M474.00 234.50 V232.30 M476.00 234.50 V232.30 M478.00 234.50 V232.30 " fill="none" stroke="#ae1139" stroke-width="0.9"/>
</svg>
</body></html>
